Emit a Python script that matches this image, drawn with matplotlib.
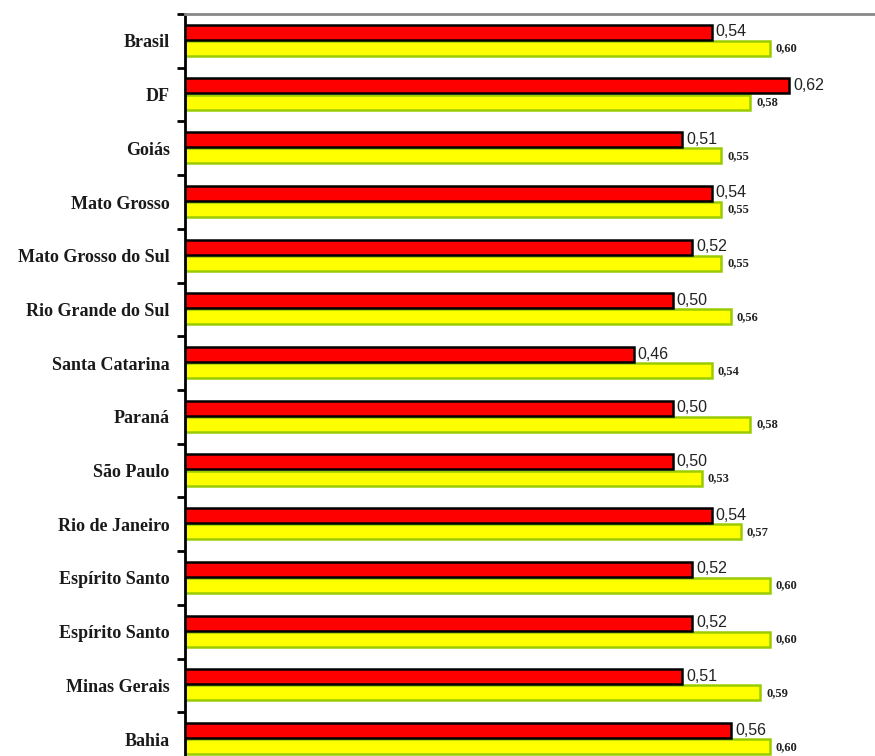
import matplotlib.pyplot as plt
import numpy as np

# dados por estado (de cima para baixo)
estados = ["Brasil", "DF", "Goiás", "Mato Grosso", "Mato Grosso do Sul",
           "Rio Grande do Sul", "Santa Catarina", "Paraná", "São Paulo",
           "Rio de Janeiro", "Espírito Santo", "Espírito Santo",
           "Minas Gerais", "Bahia"]
serie_vermelha = [0.54, 0.62, 0.51, 0.54, 0.52, 0.50, 0.46, 0.50, 0.50,
                  0.54, 0.52, 0.52, 0.51, 0.56]
serie_amarela = [0.60, 0.58, 0.55, 0.55, 0.55, 0.56, 0.54, 0.58, 0.53,
                 0.57, 0.60, 0.60, 0.59, 0.60]

fig = plt.figure(figsize=(8.75, 7.56), dpi=100)
W, H = 875, 756
# eixo vai um pouco além da borda inferior
y_top, y_bot = 14, 766
ax = fig.add_axes([185 / W, 1 - y_bot / H, 1 - 185 / W, (y_bot - y_top) / H])

n = len(estados)
pos = np.arange(n)
h = 0.28
pos_verm = pos - h / 2 - 0.02
pos_amar = pos + h / 2

ax.barh(pos_verm, serie_vermelha, height=h, color="#FF0000",
        edgecolor="#000000", linewidth=1.8, zorder=3)
ax.barh(pos_amar, serie_amarela, height=h, color="#FFFF00",
        edgecolor="#99CC00", linewidth=1.8, zorder=2)

for i in range(n):
    ax.text(serie_vermelha[i] + 0.004, pos_verm[i] - 0.01,
            f"{serie_vermelha[i]:.2f}".replace(".", ","),
            fontsize=11.5, family="Liberation Sans", color="#222222",
            ha="left", va="center")
    ax.text(serie_amarela[i] + 0.006, pos_amar[i],
            f"{serie_amarela[i]:.2f}".replace(".", ","),
            fontsize=9, family="Liberation Serif", fontweight="bold",
            color="#222222", ha="left", va="center")

ax.set_ylim(n - 0.5, -0.5)
ax.set_xlim(0, 690 / 975)

ax.set_yticks(np.arange(n + 1) - 0.5)
ax.set_yticklabels([])
ax.set_yticks(pos, minor=True)
ax.set_yticklabels(estados, minor=True, family="Liberation Serif",
                   fontweight="bold", fontsize=13, color="#1a1a1a")
ax.tick_params(axis="y", which="major", length=6, width=2, direction="out", color="black")
ax.tick_params(axis="y", which="minor", length=0, pad=11)
ax.set_xticks([])

ax.spines["left"].set_linewidth(2)
ax.spines["top"].set_color("#888888")
ax.spines["top"].set_linewidth(2)
ax.spines["right"].set_visible(False)
ax.spines["bottom"].set_visible(False)

fig.savefig("out.png", dpi=100)
